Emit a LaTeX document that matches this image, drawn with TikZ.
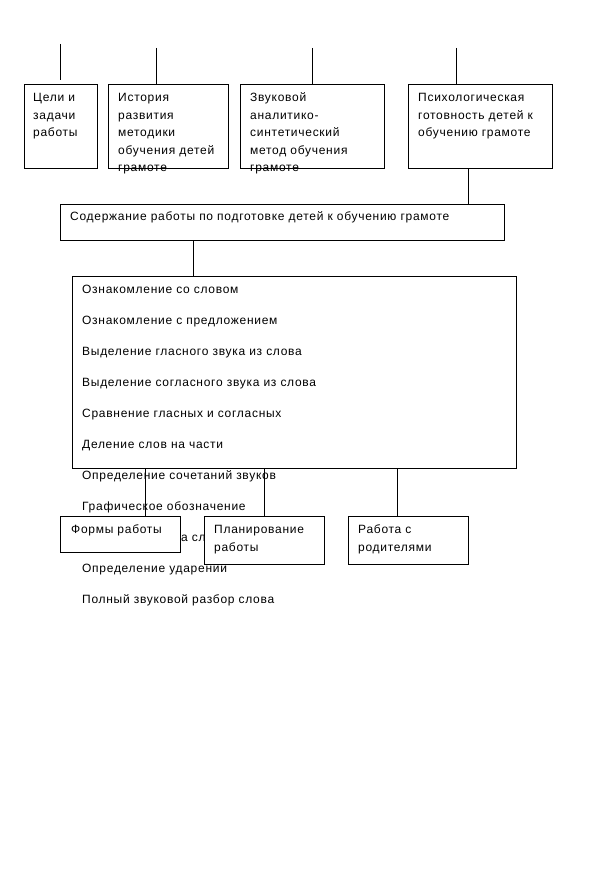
\documentclass[tikz,border=0pt]{standalone}
\usepackage{fontspec}
\setmainfont{Liberation Sans}[LetterSpace=6]
\newcommand{\fsz}{\fontsize{12}{14}\selectfont}
\begin{document}
\begin{tikzpicture}[x=1pt,y=-1pt,
  box/.style={draw,line width=0.75pt,fill=white,inner sep=0pt,rectangle},
  txt/.style={anchor=base west,inner sep=0pt,font=\fsz},
  ln/.style={line width=0.75pt}]
\useasboundingbox (0,0) rectangle (613,877);
\fill[white] (0,0) rectangle (613,877);

% big content box and its overflowing list
\node[box,minimum width=444pt,minimum height=192pt] (b6) at (294,372) {};
\node[txt] (l1) at (82,293) {Ознакомление со словом};
\node[txt] (l2) at (82,324) {Ознакомление с предложением};
\node[txt] (l3) at (82,355) {Выделение гласного звука из слова};
\node[txt] (l4) at (82,386) {Выделение согласного звука из слова};
\node[txt] (l5) at (82,417) {Сравнение гласных и согласных};
\node[txt] (l6) at (82,448) {Деление слов на части};
\node[txt] (l7) at (82,479) {Определение сочетаний звуков};
\node[txt] (l8) at (82,510) {Графическое обозначение};
\node[txt] (l9) at (181,541) {а сл};
\node[txt] (l10) at (82,572) {Определение ударении};
\node[txt] (l11) at (82,603) {Полный звуковой разбор слова};

% top boxes
\node[box,minimum width=73pt,minimum height=84pt] (b1) at (60.5,126) {};
\node[box,minimum width=120pt,minimum height=84pt] (b2) at (168,126) {};
\node[box,minimum width=144pt,minimum height=84pt] (b3) at (312,126) {};
\node[box,minimum width=144pt,minimum height=84pt] (b4) at (480,126) {};
\node[box,minimum width=444pt,minimum height=36pt] (b5) at (282,222) {};

\node[txt] (b1a) at (33,102) {Цели и};
\node[txt] (b1b) at (33,119.5) {задачи};
\node[txt] (b1c) at (33,137) {работы};

\node[txt] (b2a) at (118,102) {История};
\node[txt] (b2b) at (118,119.5) {развития};
\node[txt] (b2c) at (118,137) {методики};
\node[txt] (b2d) at (118,154.5) {обучения детей};
\node[txt] (b2e) at (118,172) {грамоте};

\node[txt] (b3a) at (250,102) {Звуковой};
\node[txt] (b3b) at (250,119.5) {аналитико-};
\node[txt] (b3c) at (250,137) {синтетический};
\node[txt] (b3d) at (250,154.5) {метод обучения};
\node[txt] (b3e) at (250,172) {грамоте};

\node[txt] (b4a) at (418,102) {Психологическая};
\node[txt] (b4b) at (418,119.5) {готовность детей к};
\node[txt] (b4c) at (418,137) {обучению грамоте};

\node[txt] (b5a) at (70,221) {Содержание работы по подготовке детей к обучению грамоте};

% bottom boxes
\node[box,minimum width=120pt,minimum height=36pt] (b7) at (120,534) {};
\node[box,minimum width=120pt,minimum height=48pt] (b8) at (264,540) {};
\node[box,minimum width=120pt,minimum height=48pt] (b9) at (408,540) {};

\node[txt] (b7a) at (71,533) {Формы работы};
\node[txt] (b8a) at (214,533) {Планирование};
\node[txt] (b8b) at (214,551) {работы};
\node[txt] (b9a) at (358,533) {Работа с};
\node[txt] (b9b) at (358,551) {родителями};

% connectors
\coordinate (t1) at (60,44);
\coordinate (t1e) at (60,80);
\coordinate (t2) at (156,48);
\coordinate (t3) at (312,48);
\coordinate (t4) at (456,48);
\coordinate (c45) at (468,0);
\coordinate (c56) at (193,0);
\coordinate (c67) at (145,0);
\coordinate (c68) at (264,0);
\coordinate (c69) at (397,0);
\draw[ln] (t1) -- (t1e);
\draw[ln] (t2) -- (t2 |- b2.north);
\draw[ln] (t3) -- (t3 |- b3.north);
\draw[ln] (t4) -- (t4 |- b4.north);
\draw[ln] (c45 |- b4.south) -- (c45 |- b5.north);
\draw[ln] (c56 |- b5.south) -- (c56 |- b6.north);
\draw[ln] (c67 |- b6.south) -- (c67 |- b7.north);
\draw[ln] (c68 |- b6.south) -- (c68 |- b8.north);
\draw[ln] (c69 |- b6.south) -- (c69 |- b9.north);
\end{tikzpicture}
\end{document}
